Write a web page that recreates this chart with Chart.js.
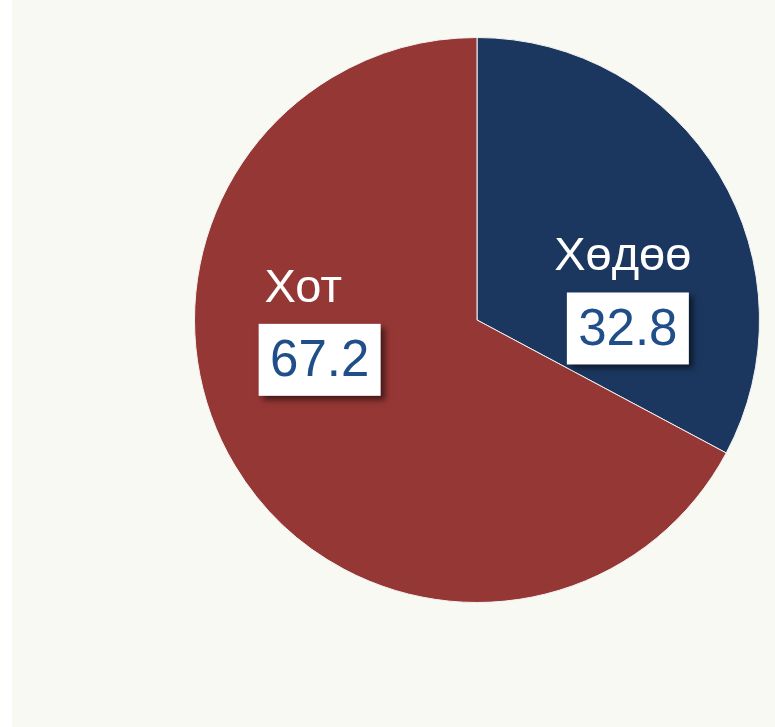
<!DOCTYPE html>
<html>
<head>
<meta charset="utf-8">
<script src="https://cdn.jsdelivr.net/npm/chart.js@4.4.0/dist/chart.umd.min.js"></script>
<style>
  html, body { margin: 0; padding: 0; background: #ffffff; }
  #wrap { width: 775px; height: 727px; }
</style>
</head>
<body>
<div id="wrap"><canvas id="pieChart" width="775" height="727"></canvas></div>
<script>
const categories = ["Хөдөө", "Хот"];
const shares = [32.8, 67.2];
const sliceColors = ["#1b375f", "#953735"];

// where each label sits, as a fraction of the radius from the pie centre
const labelSpots = [
    { text: [0.516, -0.177], box: [0.534, 0.030] },
    { text: [-0.615, -0.064], box: [-0.557, 0.141] }
];

const backgroundPlugin = {
    id: "paper",
    beforeDraw(chart) {
        const ctx = chart.ctx;
        ctx.save();
        ctx.fillStyle = "#ffffff";
        ctx.fillRect(0, 0, chart.width, chart.height);
        ctx.fillStyle = "#f9f9f4";
        ctx.fillRect(12, 0, chart.width - 12, chart.height);
        ctx.restore();
    }
};

const labelPlugin = {
    id: "sliceLabels",
    afterDatasetsDraw(chart) {
        const ctx = chart.ctx;
        const arcs = chart.getDatasetMeta(0).data;
        ctx.save();
        arcs.forEach((arc, i) => {
            const r = arc.outerRadius;
            const spot = labelSpots[i];

            // category name
            ctx.font = "47px 'Liberation Sans', Arial, sans-serif";
            ctx.fillStyle = "#ffffff";
            ctx.textAlign = "center";
            ctx.textBaseline = "alphabetic";
            ctx.fillText(categories[i], arc.x + spot.text[0] * r, arc.y + spot.text[1] * r);

            // value box with shadow
            const bx = arc.x + spot.box[0] * r;
            const by = arc.y + spot.box[1] * r;
            const bw = 122, bh = 72;
            ctx.save();
            ctx.shadowColor = "rgba(0, 0, 0, 0.55)";
            ctx.shadowBlur = 6;
            ctx.shadowOffsetX = 4;
            ctx.shadowOffsetY = 4;
            ctx.fillStyle = "#ffffff";
            ctx.fillRect(bx - bw / 2, by - bh / 2, bw, bh);
            ctx.restore();

            ctx.font = "51px 'Liberation Sans', Arial, sans-serif";
            ctx.fillStyle = "#1f4e89";
            ctx.textBaseline = "middle";
            ctx.fillText(shares[i].toFixed(1), bx, by + 2);
        });
        ctx.restore();
    }
};

new Chart(document.getElementById("pieChart"), {
    type: "pie",
    data: {
        labels: categories,
        datasets: [{
            data: shares,
            backgroundColor: sliceColors,
            borderColor: "#f2f2f2",
            borderWidth: 1
        }]
    },
    options: {
        responsive: false,
        animation: false,
        layout: {
            padding: { left: 194, right: 15, top: 37, bottom: 124 }
        },
        plugins: {
            legend: { display: false },
            tooltip: { enabled: false }
        }
    },
    plugins: [backgroundPlugin, labelPlugin]
});
</script>
</body>
</html>
